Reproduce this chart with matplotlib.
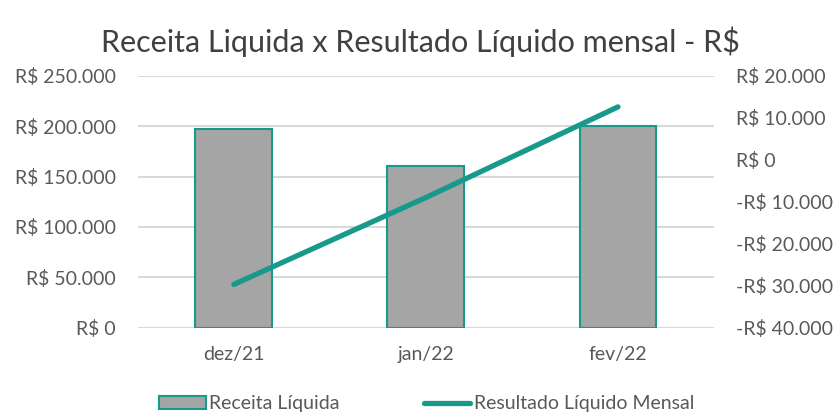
import matplotlib
matplotlib.use("Agg")
import matplotlib.pyplot as plt
from matplotlib.ticker import FuncFormatter

categories = ["dez/21", "jan/22", "fev/22"]
receita_liquida = [197000, 160500, 200500]
resultado_liquido = [-29700, -9000, 12600]
left_ticks = [0, 50000, 100000, 150000, 200000, 250000]
right_ticks = [-40000, -30000, -20000, -10000, 0, 10000, 20000]

TEAL = "#17998C"
GRAY_TXT = "#595959"
plt.rcParams['font.family'] = ['Lato', 'DejaVu Sans']

def fmt(v, pos=None):
    s = f"{abs(int(v)):,}".replace(",", ".")
    return ("-R$ " if v < 0 else "R$ ") + s

fig = plt.figure(figsize=(8.4, 4.19), dpi=100)
ax = fig.add_axes([0.164, 0.218, 0.686, 0.601])
x = list(range(len(categories)))
bars = ax.bar(x, receita_liquida, width=0.4, color="#A5A5A5", edgecolor=TEAL,
              linewidth=1.5, label="Receita Líquida", zorder=2)
ax.set_xlim(-0.5, 2.5)
ax.set_ylim(0, 250000)
ax.set_yticks(left_ticks)
ax.yaxis.set_major_formatter(FuncFormatter(fmt))
ax.set_xticks(x)
ax.set_xticklabels(categories)
ax.grid(axis="y", color="#D9D9D9", linewidth=1.5, zorder=0)
ax.set_axisbelow(True)
for s in ax.spines.values():
    s.set_visible(False)
ax.tick_params(axis="both", length=0, labelsize=14, colors=GRAY_TXT)
ax.tick_params(axis="x", pad=13)
ax.tick_params(axis="y", pad=16)

ax2 = ax.twinx()
line, = ax2.plot(x, resultado_liquido, color=TEAL, linewidth=3.8, solid_capstyle="round",
                 label="Resultado Líquido Mensal", zorder=3)
ax2.set_ylim(-40000, 20000)
ax2.set_yticks(right_ticks)
ax2.yaxis.set_major_formatter(FuncFormatter(fmt))
for s in ax2.spines.values():
    s.set_visible(False)
ax2.tick_params(axis="y", length=0, labelsize=14, colors=GRAY_TXT, pad=16)

fig.text(0.5, 0.9, "Receita Liquida x Resultado Líquido mensal - R$", ha="center",
         va="center", fontsize=22, color="#404040")

fig.legend([bars, line], ["Receita Líquida", "Resultado Líquido Mensal"],
           loc="center", bbox_to_anchor=(0.508, 0.036), ncol=2, frameon=False,
           fontsize=14, labelcolor=GRAY_TXT, handlelength=2.4, handletextpad=0.2,
           columnspacing=4.3)

fig.savefig("out.png", dpi=100)
